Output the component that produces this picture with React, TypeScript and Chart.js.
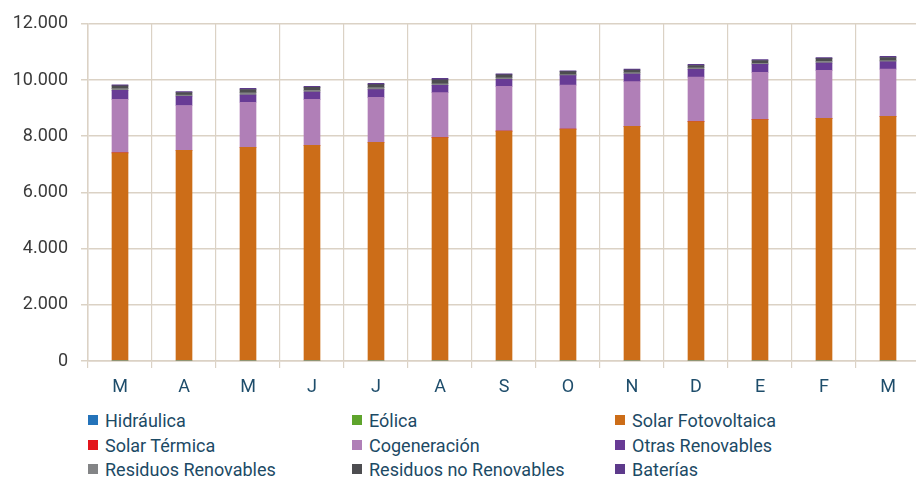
import React, { useEffect, useRef } from "react";
import { Chart, registerables } from "chart.js";

Chart.register(...registerables);

const categories = ["M", "A", "M", "J", "J", "A", "S", "O", "N", "D", "E", "F", "M"];
const yTicks = [0, 2000, 4000, 6000, 8000, 10000, 12000];

const hidraulica = [0, 0, 0, 0, 0, 0, 0, 0, 0, 0, 0, 0, 0];
const eolica = [0, 0, 0, 0, 0, 0, 0, 0, 0, 0, 0, 0, 0];
const solarFV = [7405, 7501, 7607, 7678, 7785, 7951, 8180, 8250, 8350, 8520, 8590, 8637, 8708];
const solarTermica = [0, 0, 0, 0, 0, 0, 0, 0, 0, 0, 0, 0, 0];
const cogeneracion = [1906, 1590, 1600, 1633, 1597, 1598, 1593, 1569, 1590, 1583, 1680, 1704, 1679];
const otrasRenovables = [320, 330, 260, 260, 274, 259, 248, 334, 270, 273, 284, 259, 263];
const residuosRenovables = [60, 40, 80, 60, 70, 60, 60, 40, 55, 60, 40, 60, 40];
const residuosNoRenovables = [100, 95, 115, 105, 110, 140, 100, 105, 85, 80, 100, 100, 110];
const baterias = [40, 31, 42, 37, 43, 49, 43, 32, 37, 38, 37, 42, 38];

const series = [
  { name: "Hidráulica", data: hidraulica, color: "#2473ba" },
  { name: "Eólica", data: eolica, color: "#5ea42c" },
  { name: "Solar Fotovoltaica", data: solarFV, color: "#cc6d18" },
  { name: "Solar Térmica", data: solarTermica, color: "#e3151c" },
  { name: "Cogeneración", data: cogeneracion, color: "#b07fb7" },
  { name: "Otras Renovables", data: otrasRenovables, color: "#683b95" },
  { name: "Residuos Renovables", data: residuosRenovables, color: "#838486" },
  { name: "Residuos no Renovables", data: residuosNoRenovables, color: "#4d4d50" },
  { name: "Baterías", data: baterias, color: "#5d3a8b" },
];

const FONT = "Roboto, 'Liberation Sans', sans-serif";
const GRID = "#dbd2c5";

function fmt(v: number): string {
  return String(Math.round(v)).replace(/\B(?=(\d{3})+(?!\d))/g, ".");
}

export default function App() {
  const ref = useRef<HTMLCanvasElement | null>(null);

  useEffect(() => {
    if (!ref.current) return;
    const chart = new Chart(ref.current, {
      type: "bar",
      data: {
        labels: categories,
        datasets: series.map((s) => ({
          label: s.name,
          data: s.data,
          backgroundColor: s.color,
          borderWidth: 0,
          stack: "a",
        })),
      },
      options: {
        responsive: false,
        animation: false,
        maintainAspectRatio: false,
        layout: { padding: { top: 23, right: 0, left: 0, bottom: 0 } },
        datasets: { bar: { barThickness: 16 } },
        plugins: { legend: { display: false }, tooltip: { enabled: false } },
        scales: {
          x: {
            stacked: true,
            grid: { color: GRID, offset: true, tickLength: 7, lineWidth: 1.2 },
            border: { color: GRID, width: 1.5 },
            ticks: { color: "#1e4d6b", font: { family: FONT, size: 18 }, padding: 9 },
            afterFit: (s: any) => {
              s.height = 39;
            },
          },
          y: {
            stacked: true,
            min: 0,
            max: 12000,
            afterBuildTicks: (s: any) => {
              s.ticks = yTicks.map((v) => ({ value: v }));
            },
            grid: { color: GRID, tickLength: 7, lineWidth: 1.5 },
            border: { color: GRID, width: 1.5 },
            ticks: {
              color: "#3a3a3a",
              font: { family: FONT, size: 18 },
              padding: 13,
              callback: (v: any) => fmt(Number(v)),
            },
            afterFit: (s: any) => {
              s.width = 88;
            },
          },
        },
      },
    });
    return () => chart.destroy();
  }, []);

  const cols = [88, 352, 615];
  const rows = [420, 445, 469];

  return (
    <div
      style={{
        position: "fixed",
        left: 0,
        top: 0,
        width: 916,
        height: 479,
        overflow: "hidden",
        background: "#fff",
      }}
    >
      <canvas ref={ref} width={920} height={400} style={{ position: "absolute", left: 0, top: 0, width: 920, height: 400 }} />
      {series.map((s, i) => {
        const c = i % 3;
        const r = Math.floor(i / 3);
        return (
          <div
            key={s.name}
            style={{
              position: "absolute",
              left: cols[c],
              top: rows[r] - 11,
              height: 22,
              display: "flex",
              alignItems: "center",
              fontFamily: FONT,
              fontSize: 18,
              color: "#1c4a65",
              whiteSpace: "nowrap",
            }}
          >
            <span style={{ display: "inline-block", width: 10, height: 10, background: s.color, marginRight: 7 }} />
            <span>{s.name}</span>
          </div>
        );
      })}
    </div>
  );
}
